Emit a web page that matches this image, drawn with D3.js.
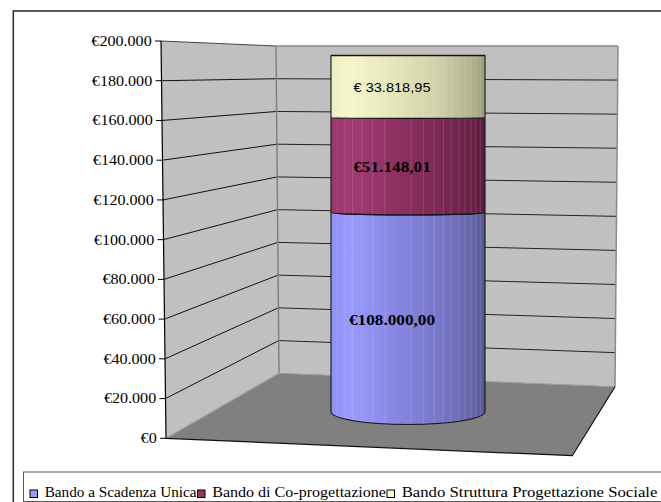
<!DOCTYPE html>
<html>
<head>
<meta charset="utf-8">
<script src="https://cdn.jsdelivr.net/npm/d3@7/dist/d3.min.js"></script>
<style>
  html, body { margin: 0; padding: 0; background: #ffffff; }
  svg { display: block; }
</style>
</head>
<body>
<svg id="chart" width="661" height="502"></svg>
<script>
// ---------------- DATA ----------------
const categories = ["Totale"];
const seriesNames = ["Bando a Scadenza Unica", "Bando di Co-progettazione", "Bando Struttura Progettazione Sociale"];
const seriesValues = [108000.00, 51148.01, 33818.95];
const seriesColors = ["#9999FF", "#993366", "#FFFFCC"];
const dataLabels = ["€108.000,00", "€51.148,01", "€ 33.818,95"];
const tickValues = [0, 20000, 40000, 60000, 80000, 100000, 120000, 140000, 160000, 180000, 200000];
const tickLabels = ["€0", "€20.000", "€40.000", "€60.000", "€80.000", "€100.000", "€120.000", "€140.000", "€160.000", "€180.000", "€200.000"];

// ---------------- LAYOUT ----------------
const legendTextWidths = [152, 174, 256];

const svg = d3.select("#chart");
const STRETCH = 1.15;

const dom = [0, 200000];
const yFront = d3.scaleLinear().domain(dom).range([438.3, 41]);
const xFront = d3.scaleLinear().domain(dom).range([166, 161]);
const yBack = d3.scaleLinear().domain(dom).range([373.3, 46]);
const xBack = d3.scaleLinear().domain(dom).range([279, 276]);
const yRight = d3.scaleLinear().domain(dom).range([386.7, 46]);
const xRight = d3.scaleLinear().domain(dom).range([615, 618]);
const yCyl = d3.scaleLinear().domain(dom).range([411.5, 42.5]);
const xCyl = d3.scaleBand().domain(categories).range([331, 485]).padding(0);
const floorFrontRight = [572.3, 455.7];

// ---------------- WALLS ----------------
const gWalls = svg.append("g");
gWalls.append("path")
  .attr("d", d3.line()([[xFront(200000), yFront(200000)], [xBack(200000), yBack(200000)], [xBack(0), yBack(0)], [xFront(0), yFront(0)]]) + "Z")
  .attr("fill", "#C0C0C0");
gWalls.append("path")
  .attr("d", d3.line()([[xBack(200000), yBack(200000)], [xRight(200000), yRight(200000)], [xRight(0), yRight(0)], [xBack(0), yBack(0)]]) + "Z")
  .attr("fill", "#C0C0C0");

gWalls.selectAll("line.gl").data(tickValues.filter(v => v > 0)).join("line")
  .attr("x1", d => xFront(d)).attr("y1", d => yFront(d))
  .attr("x2", d => xBack(d)).attr("y2", d => yBack(d))
  .attr("stroke", d => d === 200000 ? "#444" : "#111").attr("stroke-width", 1);
gWalls.selectAll("line.gr").data(tickValues.filter(v => v > 0 && v < 200000)).join("line")
  .attr("x1", d => xBack(d)).attr("y1", d => yBack(d))
  .attr("x2", d => xRight(d)).attr("y2", d => yRight(d))
  .attr("stroke", "#222").attr("stroke-width", 1);
gWalls.append("line")
  .attr("x1", xBack(200000)).attr("y1", yBack(200000)).attr("x2", xRight(200000)).attr("y2", yRight(200000))
  .attr("stroke", "#8a8a8a").attr("stroke-width", 1.3);
gWalls.append("line")
  .attr("x1", xRight(200000)).attr("y1", yRight(200000)).attr("x2", xRight(0)).attr("y2", yRight(0))
  .attr("stroke", "#8a8a8a").attr("stroke-width", 1.5);
gWalls.append("line")
  .attr("x1", xBack(200000)).attr("y1", yBack(200000)).attr("x2", xBack(0)).attr("y2", yBack(0))
  .attr("stroke", "#808080").attr("stroke-width", 1.5);

// ---------------- FLOOR ----------------
const floorPts = [[xFront(0), yFront(0)], [xBack(0), yBack(0)], [xRight(0), yRight(0)], floorFrontRight];
svg.append("path").attr("d", d3.line()(floorPts) + "Z").attr("fill", "#808080");
svg.append("line").attr("x1", xFront(0)).attr("y1", yFront(0)).attr("x2", xBack(0)).attr("y2", yBack(0))
  .attr("stroke", "#a0a0a0").attr("stroke-width", 1.2);
svg.append("line").attr("x1", xBack(0)).attr("y1", yBack(0)).attr("x2", xRight(0)).attr("y2", yRight(0))
  .attr("stroke", "#9a9a9a").attr("stroke-width", 1);
svg.append("path").attr("d", d3.line()([[xFront(0), yFront(0)], floorFrontRight, [xRight(0), yRight(0)]]))
  .attr("fill", "none").attr("stroke", "#111").attr("stroke-width", 1.2);

svg.append("line").attr("x1", xFront(0)).attr("y1", yFront(0)).attr("x2", xFront(200000)).attr("y2", yFront(200000))
  .attr("stroke", "#000").attr("stroke-width", 1.2);

// ---------------- CYLINDER ----------------
const defs = svg.append("defs");
const gradStops = [
  [["0", "#9090f0"], ["0.12", "#9a9aff"], ["0.4", "#8888e4"], ["0.7", "#7878c8"], ["0.9", "#6767ac"], ["1", "#585892"]],
  [["0", "#98366a"], ["0.12", "#a23b72"], ["0.4", "#8f3163"], ["0.7", "#7b2955"], ["0.9", "#6a2247"], ["1", "#5a1d3c"]],
  [["0", "#eeeec2"], ["0.12", "#f6f6ca"], ["0.4", "#e6e6bc"], ["0.7", "#d0d0aa"], ["0.9", "#b4b491"], ["1", "#9c9c7a"]]
];
seriesColors.forEach((c, i) => {
  const g = defs.append("linearGradient").attr("id", "grad" + i).attr("x1", 0).attr("x2", 1).attr("y1", 0).attr("y2", 0);
  gradStops[i].forEach(s => g.append("stop").attr("offset", s[0]).attr("stop-color", s[1]));
});

const stackData = d3.stack().keys(seriesNames)([Object.fromEntries(seriesNames.map((n, i) => [n, seriesValues[i]]))]);
const ryAt = y => 13 * Math.pow(Math.max(0, (y - 50) / 361), 2);

const cx0 = xCyl(categories[0]);
const cw = xCyl.bandwidth();
const rx = cw / 2;
const gCyl = svg.append("g");
const facetFr = [0.04, 0.09, 0.14, 0.2, 0.27, 0.35, 0.52, 0.6, 0.67, 0.73, 0.78, 0.83, 0.87, 0.91, 0.94, 0.97];

stackData.forEach((layer, i) => {
  const v0 = layer[0][0], v1 = layer[0][1];
  const y0 = yCyl(v0), y1 = yCyl(v1);
  const r0 = ryAt(y0), r1 = ryAt(y1);
  const d = `M${cx0},${y1} L${cx0},${y0} A${rx},${r0} 0 0 0 ${cx0 + cw},${y0} L${cx0 + cw},${y1} A${rx},${r1} 0 0 1 ${cx0},${y1} Z`;
  gCyl.append("path").attr("d", d).attr("fill", `url(#grad${i})`);
  facetFr.forEach(f => {
    const x = cx0 + f * cw;
    const t = (x - (cx0 + rx)) / rx;
    const dy0 = r0 * Math.sqrt(Math.max(0, 1 - t * t));
    const dy1 = r1 * Math.sqrt(Math.max(0, 1 - t * t));
    gCyl.append("line").attr("x1", x).attr("x2", x).attr("y1", y1 + dy1).attr("y2", y0 + dy0)
      .attr("stroke", "#ffffff").attr("stroke-opacity", 0.13).attr("stroke-width", 1);
  });
  gCyl.append("path").attr("d", d).attr("fill", "none").attr("stroke", "#141414").attr("stroke-width", 1.1);
  if (i === stackData.length - 1) {
    gCyl.append("line").attr("x1", cx0).attr("x2", cx0 + cw).attr("y1", y1).attr("y2", y1)
      .attr("stroke", "#141414").attr("stroke-width", 1.3);
  }
});

// data labels
const gLab = svg.append("g");
stackData.forEach((layer, i) => {
  const v0 = layer[0][0], v1 = layer[0][1];
  const yb = yCyl(v0) + ryAt(yCyl(v0));
  const yt = yCyl(v1) + ryAt(yCyl(v1));
  const isLast = i === stackData.length - 1;
  gLab.append("g")
    .attr("transform", `translate(${cx0 + rx - 16},${(yb + yt) / 2}) scale(${isLast ? 1.08 : 1.15},1)`)
    .append("text")
    .attr("dy", "0.36em")
    .attr("text-anchor", "middle")
    .attr("font-family", isLast ? "Liberation Sans" : "Liberation Serif")
    .attr("font-size", isLast ? 13.5 : 15)
    .attr("font-weight", isLast ? "normal" : "bold")
    .attr("fill", "#000")
    .text(dataLabels[i]);
});

// ---------------- AXIS TICKS ----------------
const gAx = svg.append("g");
gAx.selectAll("line.tk").data(tickValues).join("line")
  .attr("x1", d => xFront(d) - 6).attr("x2", d => xFront(d))
  .attr("y1", d => yFront(d)).attr("y2", d => yFront(d))
  .attr("stroke", "#000").attr("stroke-width", 1);
gAx.selectAll("g.tl").data(tickValues).join("g")
  .attr("transform", d => `translate(${xFront(d) - 9.3},${yFront(d)}) scale(${STRETCH},1)`)
  .append("text")
  .attr("font-family", "Liberation Serif").attr("font-size", 14)
  .attr("dy", "0.35em")
  .attr("text-anchor", "end")
  .attr("fill", "#000")
  .text((d, i) => tickLabels[i]);

// ---------------- LEGEND ----------------
const gLeg = svg.append("g");
gLeg.append("rect").attr("x", 23.5).attr("y", 472).attr("width", 700).attr("height", 29.5)
  .attr("fill", "#fff").attr("stroke", "#5a5a5a").attr("stroke-width", 1);
let xPos = 30;
seriesNames.forEach((n, i) => {
  gLeg.append("rect").attr("x", xPos).attr("y", 490).attr("width", 7.5).attr("height", 7.5)
    .attr("fill", seriesColors[i]).attr("stroke", "#000").attr("stroke-width", 1);
  const g = gLeg.append("g");
  const t = g.append("text").attr("font-family", "Liberation Serif").attr("font-size", 14)
    .attr("fill", "#000").text(n);
  const nat = t.node().getComputedTextLength() || legendTextWidths[i];
  g.attr("transform", `translate(${xPos + 14.7},497.3) scale(${legendTextWidths[i] / nat},1)`);
  xPos = xPos + 14.7 + legendTextWidths[i] + 0.8;
});

// ---------------- OUTER FRAME ----------------
svg.append("rect").attr("x", 13.3).attr("y", 11).attr("width", 700).attr("height", 600)
  .attr("fill", "none").attr("stroke", "#333").attr("stroke-width", 1.6);
</script>
</body>
</html>
